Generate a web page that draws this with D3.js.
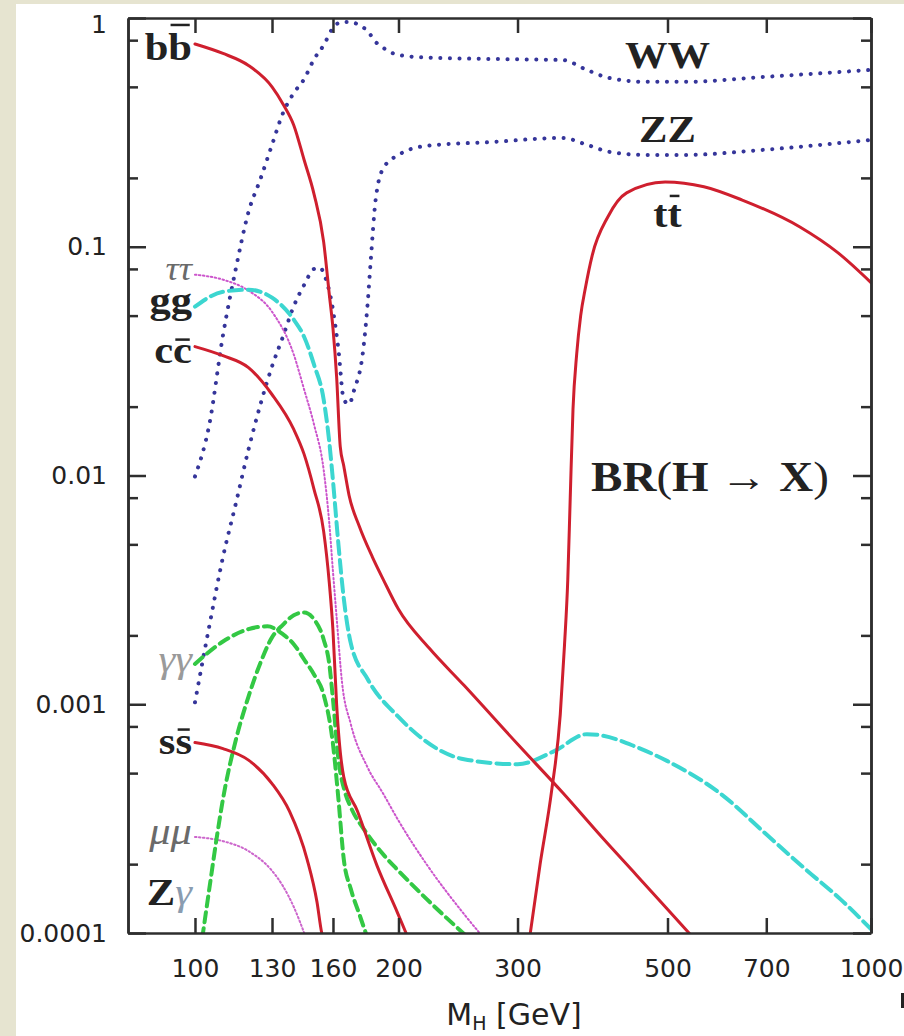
<!DOCTYPE html>
<html>
<head>
<meta charset="utf-8">
<script src="https://cdn.jsdelivr.net/npm/d3@7"></script>
<style>
  body { margin: 0; background: #e6e4d0; }
  svg { display: block; }
  .axis path, .axis line { stroke: #2e2e2e; stroke-width: 2.5; }
  .axis text { font-family: "DejaVu Sans", sans-serif; font-size: 25px; fill: #222; }
  .lbl { font-family: "Liberation Serif", serif; font-size: 38px; font-weight: bold; fill: #222; }
</style>
</head>
<body>
<script>
// branching ratios of the SM Higgs (mass in GeV)
var massBB = [100,110,120,130,135,140,145,150,155,158,160,162,164,166,169,175,183,190,200,222,250,300,350,400,450,500,550];
var brBB   = [0.77,0.70,0.62,0.50,0.42,0.34,0.24,0.17,0.105,0.062,0.044,0.027,0.0134,0.011,0.0082,0.006,0.0044,0.0035,0.0026,0.00176,0.00121,0.00067,0.00041,0.000262,0.000179,0.000127,0.000093];

var massCC = [100,110,120,130,140,145,150,155,158,160,162,166,174,186,199,210];
var brCC   = [0.0366,0.0334,0.0296,0.0226,0.0159,0.0124,0.0087,0.0057,0.0034,0.0021,0.001,0.00048,0.00034,0.000196,0.000124,0.000085];

var massSS = [100,110,120,130,138,146.5,151.5,154,156];
var brSS   = [0.00068,0.00064,0.00057,0.00045,0.00034,0.00021,0.000137,0.0001,0.00009];

var massTT = [310,324,337,347,352,356,359,362.4,367,372,378,387,408,435,496,566,645,785,894,1000];
var brTT   = [0.00008,0.0002,0.00042,0.0009,0.0018,0.0035,0.008,0.0195,0.034,0.05,0.066,0.092,0.135,0.172,0.192,0.183,0.160,0.122,0.094,0.0697];

var massWW = [100,105,110,115,120,125,130,135,140,145,150,155,160,165,170,175,180,185,190,200,220,275,350,380,410,465,530,690,1000];
var brWW   = [0.0099,0.0167,0.041,0.081,0.142,0.198,0.279,0.385,0.47,0.54,0.66,0.76,0.905,0.96,0.96,0.93,0.877,0.786,0.74,0.689,0.672,0.662,0.655,0.593,0.547,0.526,0.526,0.552,0.593];

var massZZ = [100,105,110,115,120,125,130,135,140,145,150,153,156,160,163,166,169,172,177,180,182,185,190,200,220,275,350,380,410,465,530,690,1000];
var brZZ   = [0.00102,0.0022,0.0044,0.0076,0.013,0.0205,0.030,0.0406,0.055,0.068,0.080,0.081,0.073,0.053,0.0355,0.0215,0.0205,0.0237,0.0338,0.0558,0.0878,0.160,0.221,0.252,0.276,0.287,0.299,0.279,0.260,0.252,0.252,0.265,0.293];

var massGG = [100,110,120,130,140,145,150,155,158,160,163,166,170,180,200,250,300,340,380,400,450,500,600,700,800,900,1000];
var brGG   = [0.0547,0.0636,0.0649,0.0599,0.048,0.0404,0.0305,0.0215,0.014,0.0095,0.005,0.0029,0.00185,0.00129,0.00088,0.000575,0.000547,0.000624,0.00074,0.00073,0.00065,0.000564,0.000405,0.00027,0.00019,0.000141,0.000104];

var massTauTau = [100,110,120,130,140,145,150,155,158,160,162,165,170,180,190,200,220,250,270];
var brTauTau   = [0.0755,0.0718,0.0643,0.052,0.0338,0.0238,0.0167,0.0106,0.0062,0.0038,0.0024,0.00125,0.00082,0.00053,0.000405,0.00031,0.0002,0.000121,0.000092];

var massMuMu = [100,110,120,130,135,140,146];
var brMuMu   = [0.000263,0.000252,0.000228,0.000187,0.00016,0.00013,0.000095];

var massGamGam = [100,110,120,128,135,140,145,150,155,160,163,166,170,175,180];
var brGamGam   = [0.0015,0.00188,0.00213,0.00219,0.00202,0.00183,0.00157,0.00135,0.0011,0.00067,0.000385,0.00021,0.000156,0.000121,0.000095];

var massZGam = [102.5,105,108,110,115,120,125,130,135,140,145,150,155,158,160,163,167,170,180,190,200,220,252];
var brZGam   = [0.000095,0.000156,0.000276,0.000385,0.000703,0.00108,0.00152,0.00196,0.00223,0.00245,0.00252,0.00235,0.00192,0.0015,0.00105,0.000575,0.000405,0.000355,0.00027,0.00022,0.000187,0.000141,0.000097];

// axes
var xTicks = [100,130,160,200,300,500,700,1000];
var xTickLabels = ["100","130","160","200","300","500","700","1000"];
var yTicks = [1,0.1,0.01,0.001,0.0001];
var yTickLabels = ["1","0.1","0.01","0.001","0.0001"];
var yMinorTicks = [0.8,0.5,0.2,0.08,0.05,0.02,0.008,0.005,0.002,0.0008,0.0005,0.0002];

var svgWidth = 904;
var svgHeight = 1036;
var plotLeft = 128, plotRight = 871, plotTop = 18, plotBottom = 933;

var svg = d3.select("body").append("svg")
    .attr("width", svgWidth)
    .attr("height", svgHeight);

// white sheet on the beige page
svg.append("rect").attr("x", 16).attr("y", 4)
    .attr("width", svgWidth - 16).attr("height", svgHeight - 4)
    .attr("fill", "#ffffff");
svg.append("rect").attr("x", 901).attr("y", 993).attr("width", 3).attr("height", 15).attr("fill", "#222");

var x = d3.scaleLog().domain([79.6, 1000]).range([plotLeft, plotRight]);
var y = d3.scaleLog().domain([0.0001, 1]).range([plotBottom, plotTop]);

svg.append("clipPath").attr("id", "plotclip")
  .append("rect").attr("x", plotLeft).attr("y", plotTop)
    .attr("width", plotRight - plotLeft).attr("height", plotBottom - plotTop);

// the curves
var channels = [
    {mass: massWW, br: brWW, color: "#35359a", width: 4, dash: "0.1 9.5"},
    {mass: massZZ, br: brZZ, color: "#35359a", width: 4, dash: "0.1 9.5"},
    {mass: massTauTau, br: brTauTau, color: "#cc55cc", width: 2, dash: "1.5 2.5"},
    {mass: massMuMu, br: brMuMu, color: "#cc66cc", width: 2, dash: "1.5 2.5"},
    {mass: massGG, br: brGG, color: "#3cd6d0", width: 4, dash: "13 6"},
    {mass: massGamGam, br: brGamGam, color: "#33c844", width: 4, dash: "10 6"},
    {mass: massZGam, br: brZGam, color: "#33c844", width: 4, dash: "10 6"},
    {mass: massBB, br: brBB, color: "#cf1f2e", width: 3, dash: null},
    {mass: massCC, br: brCC, color: "#cf1f2e", width: 3, dash: null},
    {mass: massSS, br: brSS, color: "#cf1f2e", width: 3, dash: null},
    {mass: massTT, br: brTT, color: "#cf1f2e", width: 3, dash: null}
];

var line = d3.line()
    .x(function(d) { return x(d[0]); })
    .y(function(d) { return y(d[1]); })
    .curve(d3.curveMonotoneX);

svg.append("g").attr("clip-path", "url(#plotclip)")
    .selectAll("path")
    .data(channels)
    .enter()
    .append("path")
    .attr("d", function(c) { return line(d3.zip(c.mass, c.br)); })
    .attr("fill", "none")
    .attr("stroke", function(c) { return c.color; })
    .attr("stroke-width", function(c) { return c.width; })
    .attr("stroke-dasharray", function(c) { return c.dash; })
    .attr("stroke-linecap", "round");

// frame and ticks
svg.append("g").attr("class", "axis")
    .attr("transform", "translate(0," + plotBottom + ")")
    .call(d3.axisBottom(x).tickValues(xTicks)
        .tickFormat(function(d, i) { return xTickLabels[i]; })
        .tickSize(-15).tickSizeOuter(0).tickPadding(26));
svg.append("g").attr("class", "axis")
    .attr("transform", "translate(0," + plotTop + ")")
    .call(d3.axisTop(x).tickValues(xTicks).tickFormat("")
        .tickSize(-15).tickSizeOuter(0));
var yAxis = svg.append("g").attr("class", "axis")
    .attr("transform", "translate(" + plotLeft + ",0)")
    .call(d3.axisLeft(y).tickValues(yTicks)
        .tickFormat(function(d, i) { return yTickLabels[i]; })
        .tickSize(-18).tickSizeOuter(0).tickPadding(21));
// the "1" sits a little lower, under the top edge
yAxis.selectAll(".tick text").filter(function(d) { return d == 1; }).attr("dy", "0.56em");
svg.append("g").attr("class", "axis")
    .attr("transform", "translate(" + plotLeft + ",0)")
    .call(d3.axisLeft(y).tickValues(yMinorTicks).tickFormat("")
        .tickSize(-10).tickSizeOuter(0));
svg.append("g").attr("class", "axis")
    .attr("transform", "translate(" + plotRight + ",0)")
    .call(d3.axisRight(y).tickValues(yTicks).tickFormat("")
        .tickSize(-18).tickSizeOuter(0));
svg.append("g").attr("class", "axis")
    .attr("transform", "translate(" + plotRight + ",0)")
    .call(d3.axisRight(y).tickValues(yMinorTicks).tickFormat("")
        .tickSize(-10).tickSizeOuter(0));

// axis title
var title = svg.append("text")
    .attr("x", 514).attr("y", 1025)
    .attr("text-anchor", "middle")
    .style("font-family", "DejaVu Sans, sans-serif")
    .style("font-size", "30px")
    .attr("fill", "#222");
title.append("tspan").text("M");
title.append("tspan").attr("dy", 5).style("font-size", "19px").text("H");
title.append("tspan").attr("dy", -5).text(" [GeV]");

// channel labels: parts are [text, style], bar = offset of the overline above the baseline
var leftEdge = x(100) - 3;
var labels = [
    {parts: [["bb", "b"]], bar: -35, x: leftEdge, y: y(brBB[0]) + 16, anchor: "end"},
    {parts: [["ττ", "ig"]], x: leftEdge, y: y(brTauTau[0]) + 5, anchor: "end", size: 33},
    {parts: [["gg", "b"]], x: leftEdge, y: y(brGG[0]) + 6, anchor: "end"},
    {parts: [["cc", "b"]], bar: -23, x: leftEdge, y: y(brCC[0]) + 16, anchor: "end"},
    {parts: [["γγ", "lg"]], x: leftEdge, y: y(brGamGam[0]) + 8, anchor: "end"},
    {parts: [["ss", "b"]], bar: -24, x: leftEdge, y: y(brSS[0]) + 11, anchor: "end"},
    {parts: [["μμ", "ig"]], x: leftEdge, y: y(brMuMu[0]) + 7, anchor: "end"},
    {parts: [["Z", "b"], ["γ", "lb"]], x: leftEdge, y: y(0.0001) - 28, anchor: "end"},
    {parts: [["WW", "b"]], x: x(500), y: y(brWW[26]) - 14, anchor: "middle"},
    {parts: [["ZZ", "b"]], x: x(500), y: y(brZZ[30]) - 13, anchor: "middle"},
    {parts: [["tt", "b"]], bar: -31, x: x(500), y: y(brTT[14]) + 45, anchor: "middle"},
    {parts: [["BR", "b"], ["(", "n"], ["H ", "b"], ["→", "n"], [" X", "b"], [")", "n"]],
        x: 710, y: 491, anchor: "middle", size: 42}
];

labels.forEach(function(l) {
    var g = svg.append("g")
        .attr("transform", "translate(" + l.x + "," + l.y + ") scale(1.12,1)");
    var t = g.append("text").attr("class", "lbl").attr("text-anchor", l.anchor);
    if (l.size) t.style("font-size", l.size + "px");
    l.parts.forEach(function(p) {
        var s = t.append("tspan").text(p[0]);
        if (p[1] == "ig") s.style("font-style", "italic").style("font-weight", "normal").attr("fill", "#6a6a6a");
        if (p[1] == "lg") s.style("font-style", "italic").style("font-weight", "normal").attr("fill", "#9a9a9a");
        if (p[1] == "lb") s.style("font-style", "italic").style("font-weight", "normal").attr("fill", "#8a9cb0");
        if (p[1] == "n") s.style("font-weight", "normal");
    });
    if (l.bar) {
        var n = t.node();
        var ext = n.getExtentOfChar(n.getNumberOfChars() - 1);
        g.append("line")
            .attr("x1", ext.x + 2).attr("x2", ext.x + ext.width - 2)
            .attr("y1", l.bar).attr("y2", l.bar)
            .attr("stroke", "#222").attr("stroke-width", 2.5);
    }
});
</script>
</body>
</html>
